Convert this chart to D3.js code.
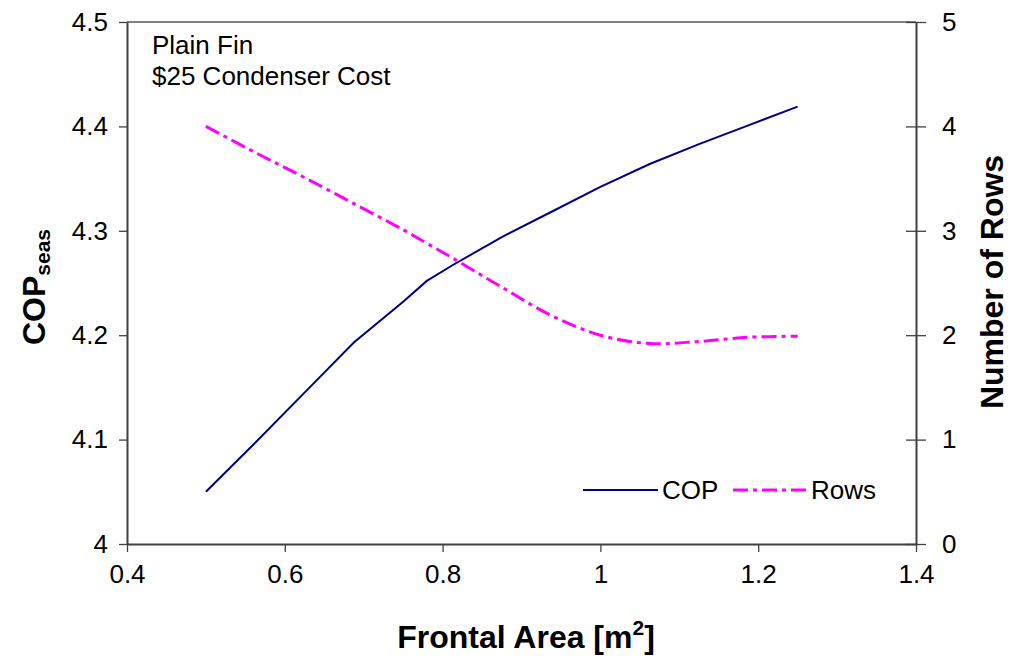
<!DOCTYPE html>
<html>
<head>
<meta charset="utf-8">
<script src="https://cdn.jsdelivr.net/npm/d3@7/dist/d3.min.js"></script>
<style>
  body { margin: 0; background: #fff; }
  svg { font-family: "Liberation Sans", Arial, sans-serif; }
</style>
</head>
<body>
<svg id="chart" width="1010" height="660"></svg>
<script>
// frontal area [m2]
const area = [0.5, 0.5625, 0.625, 0.6875, 0.75, 0.78, 0.8125, 0.875, 0.9375, 1.0, 1.0625, 1.125, 1.1875, 1.25];
// seasonal COP (left axis)
const cop = [4.050, 4.097, 4.145, 4.193, 4.232, 4.252, 4.267, 4.294, 4.318, 4.342, 4.364, 4.383, 4.401, 4.419];
// number of rows (right axis)
const rows = [4.00, 3.75, 3.51, 3.26, 3.01, 2.88, 2.74, 2.46, 2.19, 2.00, 1.92, 1.94, 1.98, 1.99];

const xTicks = [0.4, 0.6, 0.8, 1, 1.2, 1.4];
const copTicks = [4, 4.1, 4.2, 4.3, 4.4, 4.5];
const rowTicks = [0, 1, 2, 3, 4, 5];

const notes = ["Plain Fin", "$25 Condenser Cost"];

const svg = d3.select("#chart");
const box = { left: 127, right: 916, top: 22, bottom: 544 };

const x = d3.scaleLinear().domain([0.4, 1.4]).range([box.left, box.right]);
const yL = d3.scaleLinear().domain([4, 4.5]).range([box.bottom, box.top]);
const yR = d3.scaleLinear().domain([0, 5]).range([box.bottom, box.top]);

const fmt = d3.format("~g");
const axisColor = "#404040";

// top border of plot area
svg.append("line")
  .attr("x1", box.left).attr("x2", box.right)
  .attr("y1", box.top).attr("y2", box.top)
  .attr("stroke", "#808080").attr("stroke-width", 2);

function styleAxis(g) {
  g.select(".domain").attr("stroke", axisColor).attr("stroke-width", 2);
  g.selectAll(".tick line").attr("stroke", axisColor).attr("stroke-width", 1.3);
  g.selectAll(".tick text")
    .attr("fill", "#000")
    .style("font-size", "26px")
    .style("font-family", "'Liberation Sans', Arial, sans-serif");
}

svg.append("g")
  .attr("transform", `translate(0,${box.bottom})`)
  .call(d3.axisBottom(x).tickValues(xTicks).tickFormat(fmt).tickSize(8).tickSizeOuter(0).tickPadding(13))
  .call(styleAxis);

svg.append("g")
  .attr("transform", `translate(${box.left},0)`)
  .call(d3.axisLeft(yL).tickValues(copTicks).tickFormat(fmt).tickSize(8).tickSizeOuter(0).tickPadding(11))
  .call(styleAxis);

const right = svg.append("g")
  .attr("transform", `translate(${box.right},0)`)
  .call(d3.axisRight(yR).tickValues(rowTicks).tickFormat(fmt).tickSize(10).tickSizeOuter(0).tickPadding(16))
  .call(styleAxis);
// right ticks cross the axis
right.selectAll(".tick line").attr("x1", -10);

// lines
const copLine = d3.line().x((d, i) => x(area[i])).y(d => yL(d));
const rowLine = d3.line().x((d, i) => x(area[i])).y(d => yR(d)).curve(d3.curveCatmullRom);

svg.append("path")
  .datum(cop)
  .attr("d", copLine)
  .attr("fill", "none")
  .attr("stroke", "#000080")
  .attr("stroke-width", 2);

svg.append("path")
  .datum(rows)
  .attr("d", rowLine)
  .attr("fill", "none")
  .attr("stroke", "#FF00FF")
  .attr("stroke-width", 3)
  .attr("stroke-dasharray", "15,5,4,5");

// notes in top-left corner
svg.selectAll("text.note")
  .data(notes)
  .enter().append("text")
  .attr("class", "note")
  .attr("x", 152)
  .attr("y", (d, i) => 54 + i * 31)
  .style("font-size", "26px")
  .text(d => d);

// legend
const legend = svg.append("g").attr("transform", "translate(583,490)");
legend.append("line").attr("x1", 0).attr("x2", 75).attr("y1", 0).attr("y2", 0)
  .attr("stroke", "#000080").attr("stroke-width", 2);
legend.append("text").attr("x", 79).attr("y", 9).style("font-size", "26px").text("COP");
legend.append("line").attr("x1", 150).attr("x2", 224).attr("y1", 0).attr("y2", 0)
  .attr("stroke", "#FF00FF").attr("stroke-width", 3).attr("stroke-dasharray", "15,5,4,5");
legend.append("text").attr("x", 228).attr("y", 9).style("font-size", "26px").text("Rows");

// axis titles
const xt = svg.append("text")
  .attr("x", 526).attr("y", 648)
  .attr("text-anchor", "middle")
  .style("font-size", "32px").style("font-weight", "bold");
xt.append("tspan").text("Frontal Area [m");
xt.append("tspan").attr("dy", -13).style("font-size", "21px").text("2");
xt.append("tspan").attr("dy", 13).text("]");

const yt = svg.append("text")
  .attr("transform", "translate(45,287) rotate(-90)")
  .attr("text-anchor", "middle")
  .style("font-size", "32px").style("font-weight", "bold");
yt.append("tspan").text("COP");
yt.append("tspan").attr("dy", 5).style("font-size", "21px").text("seas");

svg.append("text")
  .attr("transform", "translate(1003,282) rotate(-90)")
  .attr("text-anchor", "middle")
  .style("font-size", "32px").style("font-weight", "bold")
  .text("Number of Rows");
</script>
</body>
</html>
